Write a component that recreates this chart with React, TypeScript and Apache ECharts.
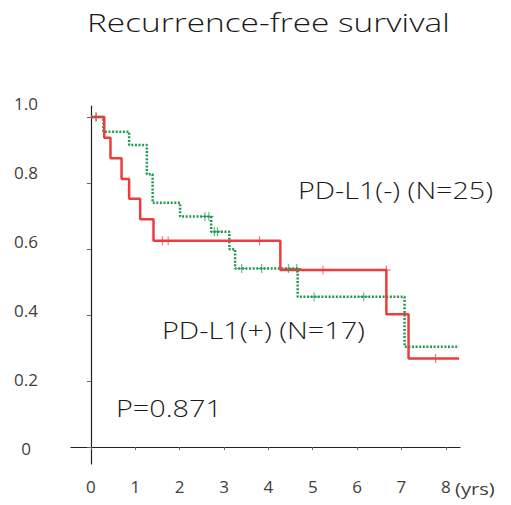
import React, { useEffect, useRef } from "react";
import * as echarts from "echarts";

// Kaplan-Meier curves (time in years, survival probability)
const redSteps: [number, number][] = [
  [0, 1.0], [0.30, 0.937], [0.44, 0.875], [0.69, 0.812], [0.86, 0.752],
  [1.11, 0.69], [1.41, 0.625], [4.27, 0.536], [6.66, 0.402], [7.16, 0.268], [8.3, 0.268],
];
const greenSteps: [number, number][] = [
  [0, 1.0], [0.28, 0.955], [0.86, 0.915], [1.26, 0.826], [1.39, 0.74],
  [2.01, 0.698], [2.71, 0.652], [3.12, 0.599], [3.25, 0.541], [4.66, 0.455],
  [7.07, 0.304], [8.3, 0.304],
];
const redCensored: [number, number][] = [
  [0.12, 1.0], [1.61, 0.625], [1.74, 0.625], [3.80, 0.625], [5.23, 0.536],
  [6.66, 0.536], [7.77, 0.268],
];
const greenCensored: [number, number][] = [
  [0.11, 1.0], [2.57, 0.698], [2.66, 0.698], [2.78, 0.652], [2.85, 0.652],
  [3.40, 0.541], [3.85, 0.541], [4.45, 0.541], [4.64, 0.541], [5.03, 0.455],
  [6.15, 0.455],
];
const xTicks = [0, 1, 2, 3, 4, 5, 6, 7, 8];
const yTicks = [0, 0.2, 0.4, 0.6, 0.8, 1.0];

const titleText = "Recurrence-free survival";
const negLabel = "PD-L1(-) (N=25)";
const posLabel = "PD-L1(+) (N=17)";
const pLabel = "P=0.871";
const xUnit = "(yrs)";

const RED = "#ef3b3b";
const GREEN = "#1f9a4f";
const FONT = "'Open Sans', 'Noto Sans', sans-serif";
const PLUS = "path://M4,0h1v9h-1zM0,4h9v1h-9z";

export default function App() {
  const ref = useRef<HTMLDivElement>(null);
  useEffect(() => {
    if (!ref.current) return;
    const chart = echarts.init(ref.current, undefined, { renderer: "svg" });
    const txt = (text: string, x: number, y: number, sx: number, size = 24) => ({
      type: "text",
      x,
      y,
      scaleX: sx,
      style: {
        text,
        x: 0,
        y: 0,
        align: "left",
        verticalAlign: "middle",
        font: `300 ${size}px ${FONT}`,
        fill: "#1a1a1a",
      },
    });
    chart.setOption({
      animation: false,
      backgroundColor: "#ffffff",
      grid: [
        { left: 71, right: 51, top: 106, bottom: 41 },
        { left: 71, right: 51, top: 103, bottom: 57 },
      ],
      xAxis: [
        {
          type: "value",
          gridIndex: 0,
          min: -0.45,
          max: 8.32,
          axisLine: { lineStyle: { color: "#222", width: 1.2 } },
          axisTick: { customValues: xTicks, length: 3, lineStyle: { color: "#666" } },
          axisLabel: {
            customValues: xTicks, margin: 14, fontFamily: FONT, fontSize: 17, color: "#404040",
          },
          splitLine: { show: false },
        },
        {
          type: "value", gridIndex: 1, min: 0, max: 8, show: false,
        },
      ],
      yAxis: [
        {
          type: "value",
          gridIndex: 0,
          min: -0.0515,
          max: 1.033,
          axisLine: { show: true, lineStyle: { color: "#222", width: 1.2 } },
          axisTick: { show: true, customValues: yTicks, length: 4, lineStyle: { color: "#666" } },
          axisLabel: { show: false },
          splitLine: { show: false },
        },
        {
          type: "value",
          gridIndex: 1,
          min: 0,
          max: 1,
          interval: 0.2,
          axisLine: { show: false },
          axisTick: { show: false },
          splitLine: { show: false },
          axisLabel: {
            align: "center",
            margin: 45,
            fontFamily: FONT,
            fontSize: 17,
            color: "#404040",
            formatter: (v: number) => (v === 0 ? "0" : v.toFixed(1)),
          },
        },
      ],
      series: [
        {
          type: "line",
          name: "PD-L1(-)",
          data: greenSteps,
          step: "end",
          symbol: "none",
          lineStyle: { color: GREEN, width: 2.5, type: [2, 1.6], cap: "butt" },
          z: 2,
        },
        {
          type: "line",
          name: "PD-L1(+)",
          data: redSteps,
          step: "end",
          symbol: "none",
          lineStyle: { color: RED, width: 2.5 },
          z: 3,
        },
        {
          type: "scatter",
          data: greenCensored,
          symbol: PLUS,
          symbolSize: 9,
          itemStyle: { color: GREEN },
          z: 4,
        },
        {
          type: "scatter",
          data: redCensored,
          symbol: PLUS,
          symbolSize: 9,
          itemStyle: { color: RED },
          z: 5,
        },
      ],
      graphic: [
        txt(titleText, 87, 22, 1.32, 25.3),
        txt(negLabel, 298, 190, 1.196),
        txt(posLabel, 162, 330, 1.2),
        txt(pLabel, 116, 408, 1.2),
        {
          type: "text",
          x: 455,
          y: 488,
          scaleX: 1.18,
          style: {
            text: xUnit, x: 0, y: 0, align: "left", verticalAlign: "middle",
            font: `17px ${FONT}`, fill: "#404040",
          },
        },
      ],
    });
    return () => chart.dispose();
  }, []);
  return (
    <div
      ref={ref}
      style={{ position: "fixed", left: 0, top: 0, width: 511, height: 505, background: "#fff" }}
    />
  );
}
